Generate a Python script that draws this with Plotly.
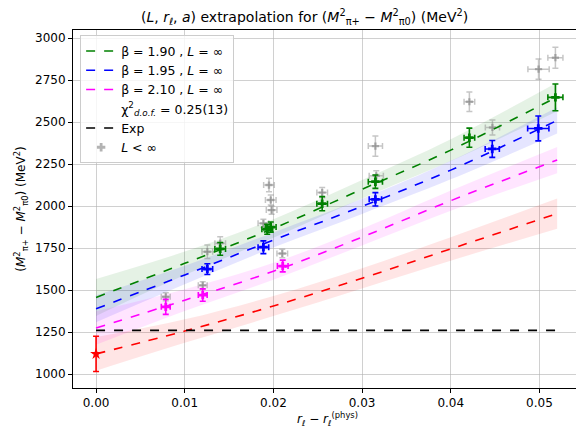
import plotly.graph_objects as go

# ---------------- data ----------------
fit_x = [0.0, 0.01, 0.02, 0.03, 0.04, 0.052]
fit_green = [1456, 1659, 1867, 2100, 2333, 2650]
fit_blue = [1389, 1590, 1798, 1998, 2214, 2510]
fit_magenta = [1274, 1440, 1612, 1815, 2032, 2274]
fit_red = [1120, 1256, 1405, 1570, 1745, 1955]
err_green = [110, 70, 55, 55, 65, 85]
err_blue = [80, 55, 45, 45, 55, 78]
err_magenta = [100, 65, 50, 50, 60, 78]
err_red = [100, 70, 60, 60, 70, 90]

exp_value = 1260

green_x = [0.0140, 0.0193, 0.0197, 0.0255, 0.0315, 0.0421, 0.0518]
green_y = [1745, 1862, 1875, 2014, 2145, 2407, 2647]
green_yerr = [38, 30, 30, 42, 40, 57, 80]
green_xerr = [0.0006, 0.0006, 0.0006, 0.0006, 0.0008, 0.0006, 0.00085]

blue_x = [0.01255, 0.01887, 0.0315, 0.04468, 0.04987]
blue_y = [1625, 1755, 2040, 2340, 2462]
blue_yerr = [32, 38, 40, 50, 74]
blue_xerr = [0.0006, 0.0006, 0.0007, 0.0008, 0.0012]

magenta_x = [0.00786, 0.01203, 0.02105]
magenta_y = [1400, 1470, 1643]
magenta_yerr = [45, 37, 35]
magenta_xerr = [0.0005, 0.0005, 0.0006]

red_x = [0.0]
red_y = [1120]
red_yerr = [105]

gray_x = [0.00786, 0.01203, 0.01255, 0.0140, 0.01887, 0.0195, 0.0197, 0.0198,
          0.0210, 0.0255, 0.0316, 0.0315, 0.0421, 0.0447, 0.0499, 0.0518]
gray_y = [1460, 1528, 1728, 1778, 1897, 2125, 2036, 1976,
          1718, 2080, 2180, 2357, 2621, 2468, 2815, 2883]
gray_yerr = [24, 22, 40, 40, 25, 40, 30, 25, 25, 30, 30, 60, 58, 45, 60, 63]
gray_xerr = [0.0005, 0.0005, 0.0006, 0.0006, 0.0006, 0.0006, 0.0006, 0.0006,
             0.0006, 0.0006, 0.0008, 0.0008, 0.0006, 0.0008, 0.0012, 0.00085]

x_ticks = [0.0, 0.01, 0.02, 0.03, 0.04, 0.05]
y_ticks = [1000, 1250, 1500, 1750, 2000, 2250, 2500, 2750, 3000]

FONT = "DejaVu Sans"
fig = go.Figure()

def band(ys, errs, fillcol):
    lo = [y - e for y, e in zip(ys, errs)]
    hi = [y + e for y, e in zip(ys, errs)]
    fig.add_trace(go.Scatter(x=fit_x, y=lo, mode="lines", line=dict(width=0, shape="spline"),
                             showlegend=False, hoverinfo="skip"))
    fig.add_trace(go.Scatter(x=fit_x, y=hi, mode="lines", line=dict(width=0, shape="spline"),
                             fill="tonexty", fillcolor=fillcol, showlegend=False, hoverinfo="skip"))

band(fit_green, err_green, "rgba(0,128,0,0.10)")
band(fit_blue, err_blue, "rgba(0,0,255,0.10)")
band(fit_magenta, err_magenta, "rgba(255,0,255,0.10)")
band(fit_red, err_red, "rgba(255,0,0,0.10)")

# gray L<inf points
fig.add_trace(go.Scatter(
    x=gray_x, y=gray_y, mode="markers", name="<i>L</i> < ∞",
    marker=dict(symbol="cross", size=6, color="rgba(128,128,128,0.55)"),
    error_y=dict(type="data", array=gray_yerr, color="rgba(128,128,128,0.45)", thickness=1.5, width=3),
    error_x=dict(type="data", array=gray_xerr, color="rgba(128,128,128,0.45)", thickness=1.5, width=3),
    showlegend=False))

def pts(xs, ys, xe, ye, col, sym="cross", size=7):
    fig.add_trace(go.Scatter(
        x=xs, y=ys, mode="markers", showlegend=False,
        marker=dict(symbol=sym, size=size, color=col),
        error_y=dict(type="data", array=ye, color=col, thickness=1.6, width=3),
        error_x=dict(type="data", array=xe, color=col, thickness=1.6, width=3) if xe else None))

pts(green_x, green_y, green_xerr, green_yerr, "green")
pts(blue_x, blue_y, blue_xerr, blue_yerr, "blue")
pts(magenta_x, magenta_y, magenta_xerr, magenta_yerr, "magenta")
pts(red_x, red_y, None, red_yerr, "red", sym="star", size=9)

# fit lines
for ys, col, nm in [(fit_green, "green", "β = 1.90 , <i>L</i> = ∞"),
                    (fit_blue, "blue", "β = 1.95 , <i>L</i> = ∞"),
                    (fit_magenta, "magenta", "β = 2.10 , <i>L</i> = ∞")]:
    fig.add_trace(go.Scatter(x=fit_x, y=ys, mode="lines", name=nm,
                             line=dict(color=col, dash="dash", width=1.6, shape="spline")))
fig.add_trace(go.Scatter(x=fit_x, y=fit_red, mode="lines", showlegend=False,
                         line=dict(color="red", dash="dash", width=1.6, shape="spline")))

# chi2 legend entry
fig.add_trace(go.Scatter(x=[None], y=[None], mode="lines",
                         name="χ<sup>2</sup><sub><i>d.o.f.</i></sub> = 0.25(13)",
                         line=dict(color="rgba(0,0,0,0)")))
# exp line
fig.add_trace(go.Scatter(x=[fit_x[0], fit_x[-1]], y=[exp_value, exp_value], mode="lines", name="Exp",
                         line=dict(color="black", dash="dash", width=1.6)))
# legend entry for gray
fig.add_trace(go.Scatter(x=[None], y=[None], mode="markers", name="<i>L</i> < ∞",
                         marker=dict(symbol="cross", size=7, color="rgba(128,128,128,0.6)")))

axis_common = dict(showline=True, linecolor="black", linewidth=1, mirror=True,
                   ticks="outside", ticklen=4, tickcolor="black", automargin=False,
                   showgrid=True, gridcolor="rgba(176,176,176,0.6)", gridwidth=1,
                   zeroline=False, tickfont=dict(family=FONT, size=12, color="black"))

fig.update_layout(
    width=576, height=425,
    margin=dict(l=65, r=2, t=22, b=45),
    paper_bgcolor="white", plot_bgcolor="white",
    font=dict(family=FONT, size=12, color="black"),
    title=dict(text="(<i>L</i>, <i>r</i><sub>ℓ</sub>, <i>a</i>) extrapolation for (<i>M</i><sup>2</sup><sub>π+</sub> − <i>M</i><sup>2</sup><sub>π0</sub>) (MeV<sup>2</sup>)",
               x=0.515, xanchor="center", y=0.978, yanchor="middle", automargin=False,
               font=dict(family=FONT, size=14, color="black")),
    xaxis=dict(axis_common, range=[-0.0026, 0.0548], tickvals=x_ticks, tickformat=".2f",
               title=dict(text="<i>r</i><sub>ℓ</sub> − <i>r</i><sub>ℓ</sub><sup>(phys)</sup>",
                          font=dict(family=FONT, size=12), standoff=3)),
    yaxis=dict(axis_common, range=[917, 3048], tickvals=y_ticks,
               title=dict(text="(<i>M</i><sup>2</sup><sub>π+</sub> − <i>M</i><sup>2</sup><sub>π0</sub>) (MeV<sup>2</sup>)",
                          font=dict(family=FONT, size=12), standoff=6)),
    legend=dict(x=0.014, y=0.985, xanchor="left", yanchor="top", traceorder="normal",
                bgcolor="rgba(255,255,255,0.8)", bordercolor="#cccccc", borderwidth=1,
                font=dict(family=FONT, size=12.5), tracegroupgap=0, itemwidth=30),
    showlegend=True,
)

fig.write_html("out.html")
